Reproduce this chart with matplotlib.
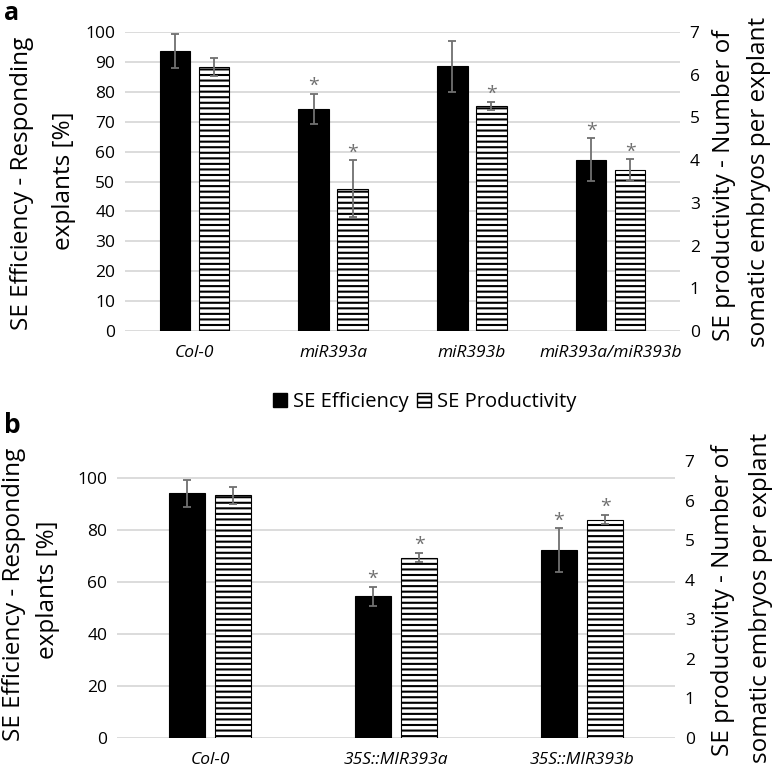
import numpy as np
import matplotlib
matplotlib.use('agg')
import matplotlib.pyplot as plt
from matplotlib.patches import Patch

plt.rcParams['font.family'] = ['Open Sans', 'DejaVu Sans']
plt.rcParams['hatch.linewidth'] = 1.5
plt.rcParams['hatch.color'] = 'black'

# panel a data
lines_a = ['Col-0', 'miR393a', 'miR393b', 'miR393a/miR393b']
eff_a = [93.6, 74.3, 88.5, 57.3]
eff_err_a = [5.7, 5.0, 8.5, 7.2]
prod_a = [6.18, 3.33, 5.27, 3.77]
prod_err_a = [0.22, 0.67, 0.10, 0.25]
star_eff_a = [False, True, False, True]
star_prod_a = [False, True, True, True]

# panel b data
lines_b = ['Col-0', '35S::MIR393a', '35S::MIR393b']
eff_b = [94.2, 54.5, 72.3]
eff_err_b = [5.2, 3.7, 8.3]
prod_b = [6.13, 4.56, 5.52]
prod_err_b = [0.22, 0.12, 0.12]
star_eff_b = [False, True, True]
star_prod_b = [False, True, True]

GRID = '#d9d9d9'
ERR = '#707070'


def draw_panel(ax, cats, eff, eff_err, prod, prod_err, s_eff, s_prod,
               ymax, yticks, width, offset, fs_tick, fs_cat):
    ax2 = ax.twinx()
    x = np.arange(len(cats))
    ax.set_zorder(ax2.get_zorder() + 1)
    ax.patch.set_visible(False)
    # productivity is drawn on the left scale, rescaled from the 0-7 right axis
    k = ymax / 7.0
    ax.bar(x - offset, eff, width, color='black', edgecolor='black',
           linewidth=0.8, zorder=3)
    ax.errorbar(x - offset, eff, yerr=eff_err, fmt='none', ecolor=ERR,
                elinewidth=1.3, capsize=3, capthick=1.3, zorder=4)
    ax.bar(x + offset, np.array(prod) * k, width, color='white',
           edgecolor='black', hatch='---', linewidth=0.8, zorder=3)
    ax.errorbar(x + offset, np.array(prod) * k, yerr=np.array(prod_err) * k,
                fmt='none', ecolor=ERR, elinewidth=1.3, capsize=3,
                capthick=1.3, zorder=4)
    for i in range(len(cats)):
        if s_eff[i]:
            ax.annotate('*', (x[i] - offset, eff[i] + eff_err[i]),
                        xytext=(0, 2), textcoords='offset points',
                        ha='center', va='baseline', fontsize=14, color=ERR, zorder=5)
        if s_prod[i]:
            ax.annotate('*', (x[i] + offset, (prod[i] + prod_err[i]) * k),
                        xytext=(0, 2), textcoords='offset points',
                        ha='center', va='baseline', fontsize=14, color=ERR, zorder=5)
    ax.set_xlim(-0.5, len(cats) - 0.5)
    ax.set_ylim(0, ymax)
    ax.set_yticks(yticks)
    ax.yaxis.grid(True, color=GRID, linewidth=1.3, zorder=0)
    ax.set_axisbelow(True)
    ax.set_xticks(x)
    ax.set_xticklabels(cats, fontstyle='italic', fontsize=fs_cat)
    ax2.set_ylim(0, 7)
    ax2.set_yticks(range(8))
    for a in (ax, ax2):
        for sp in a.spines.values():
            sp.set_visible(False)
        a.tick_params(length=0, labelsize=fs_tick, pad=7)
    ax.tick_params(axis='x', pad=10)
    return ax2


fig = plt.figure(figsize=(7.74, 7.67), dpi=100)
W, H = 774, 767

ax_a = fig.add_axes([125 / W, 1 - 331 / H, 555 / W, 299 / H])
draw_panel(ax_a, lines_a, eff_a, eff_err_a, prod_a, prod_err_a,
           star_eff_a, star_prod_a, 100, range(0, 101, 10), 0.22, 0.14, 12.5, 12.5)

ax_b = fig.add_axes([117 / W, 1 - 738 / H, 558 / W, 277 / H])
draw_panel(ax_b, lines_b, eff_b, eff_err_b, prod_b, prod_err_b,
           star_eff_b, star_prod_b, 100 * 277 / 260, range(0, 101, 20), 0.19, 0.124, 12.5, 11)


def vlabel(xpix, ypix, s):
    fig.text(xpix / W, 1 - ypix / H, s, rotation=90, ha='center', va='center',
             fontsize=17.5)


vlabel(22, 183, 'SE Efficiency - Responding')
vlabel(64, 181, 'explants [%]')
vlabel(724, 185, 'SE productivity - Number of')
vlabel(759, 182, 'somatic embryos per explant')
vlabel(14, 594, 'SE Efficiency - Responding')
vlabel(48, 590, 'explants [%]')
vlabel(723, 600, 'SE productivity - Number of')
vlabel(761, 598, 'somatic embryos per explant')

fig.text(4 / W, 1 - 20 / H, 'a', fontsize=18, fontweight='bold', va='baseline')
fig.text(4 / W, 1 - 433 / H, 'b', fontsize=19, fontweight='bold', va='baseline')

handles = [Patch(facecolor='black', edgecolor='black', label='SE Efficiency'),
           Patch(facecolor='white', edgecolor='black', hatch='---',
                 label='SE Productivity')]
fig.legend(handles=handles, loc='center', bbox_to_anchor=(425 / W, 1 - 402 / H),
           ncol=2, frameon=False, fontsize=14.5, handlelength=0.7,
           handleheight=0.7, handletextpad=0.3, columnspacing=0.4)

fig.savefig('out.png', dpi=100)
